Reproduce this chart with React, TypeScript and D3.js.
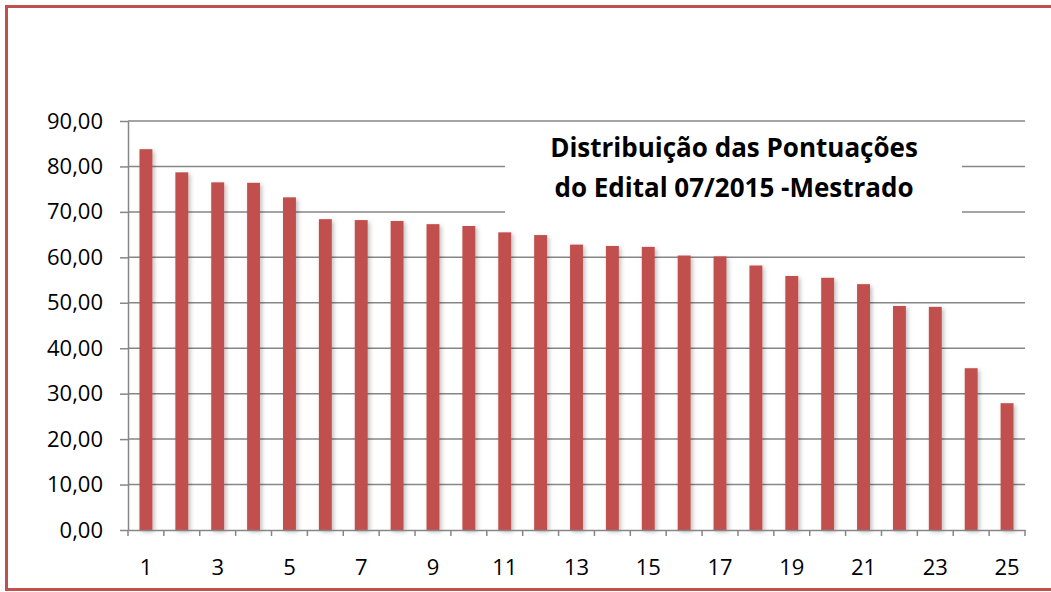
import { useEffect, useRef } from "react";
import { select, scaleLinear, scaleBand, axisBottom, axisLeft, range } from "d3";

// dados
const categories = range(1, 26).map(String);
const scores = [
  83.8, 78.7, 76.5, 76.4, 73.2, 68.4, 68.2, 68.0, 67.3, 66.9, 65.5, 64.9, 62.8,
  62.5, 62.3, 60.4, 60.2, 58.2, 55.9, 55.5, 54.1, 49.3, 49.1, 35.6, 27.9,
];
const yTicks = [0, 10, 20, 30, 40, 50, 60, 70, 80, 90];
const titleLines = ["Distribuição das Pontuações", "do Edital 07/2015 -Mestrado"];

const WIDTH = 1051;
const HEIGHT = 592;
const BAR_COLOR = "#C0504D";
const GRID_COLOR = "#868686";
const FONT = "'Open Sans', 'Noto Sans', sans-serif";

const drawChart = (node: SVGSVGElement) => {
  const svg = select(node);
  svg.selectAll("*").remove();

  const marginLeft = 128,
    marginRight = 26,
    marginTop = 121,
    marginBottom = 62;

  const x = scaleBand(categories, [marginLeft, WIDTH - marginRight])
    .paddingInner(0.64)
    .paddingOuter(0.32);
  const y = scaleLinear([0, 90], [HEIGHT - marginBottom, marginTop]);

  // sombra suave das barras
  const defs = svg.append("defs");
  const f = defs
    .append("filter")
    .attr("id", "shadow")
    .attr("x", "-50%")
    .attr("y", "-10%")
    .attr("width", "200%")
    .attr("height", "130%");
  f.append("feDropShadow")
    .attr("dx", 2)
    .attr("dy", 2)
    .attr("stdDeviation", 2)
    .attr("flood-color", "#000")
    .attr("flood-opacity", 0.25);

  // moldura
  svg
    .append("rect")
    .attr("x", 6.5)
    .attr("y", 6.5)
    .attr("width", WIDTH + 10)
    .attr("height", 583)
    .attr("fill", "#fff")
    .attr("stroke", BAR_COLOR)
    .attr("stroke-width", 3);

  // linhas de grade
  svg
    .append("g")
    .selectAll("line")
    .data(yTicks.filter((d) => d > 0))
    .enter()
    .append("line")
    .attr("x1", marginLeft)
    .attr("x2", WIDTH - marginRight)
    .attr("y1", (d) => y(d))
    .attr("y2", (d) => y(d))
    .attr("stroke", GRID_COLOR)
    .attr("stroke-width", 1.5);

  // barras
  svg
    .append("g")
    .selectAll("rect")
    .data(scores)
    .enter()
    .append("rect")
    .attr("x", (d, i) => x(categories[i]) as number)
    .attr("y", (d) => y(d))
    .attr("width", x.bandwidth())
    .attr("height", (d) => y(0) - y(d))
    .attr("fill", BAR_COLOR)
    .attr("filter", "url(#shadow)");

  // eixo x: marcas entre categorias, rótulos só nos ímpares
  const step = x.step();
  const gx = svg
    .append("g")
    .attr("transform", `translate(0,${y(0)})`)
    .call(
      axisBottom(x)
        .tickSize(0)
        .tickPadding(29)
        .tickFormat((d, i) => (i % 2 === 0 ? d : ""))
    );
  gx.select(".domain").attr("stroke", GRID_COLOR).attr("stroke-width", 1.5);
  gx.selectAll("text")
    .attr("font-family", FONT)
    .attr("font-size", 22)
    .attr("fill", "#000");
  gx.append("g")
    .selectAll("line")
    .data(range(categories.length + 1))
    .enter()
    .append("line")
    .attr("x1", (d) => marginLeft + d * step)
    .attr("x2", (d) => marginLeft + d * step)
    .attr("y1", 0)
    .attr("y2", 6)
    .attr("stroke", GRID_COLOR)
    .attr("stroke-width", 1.5);

  // eixo y
  const gy = svg
    .append("g")
    .attr("transform", `translate(${marginLeft},0)`)
    .call(
      axisLeft(y)
        .tickValues(yTicks)
        .tickSize(8)
        .tickSizeOuter(0)
        .tickPadding(17)
        .tickFormat((d) => (d as number).toFixed(2).replace(".", ","))
    );
  gy.select(".domain").attr("stroke", GRID_COLOR).attr("stroke-width", 1.5);
  gy.selectAll(".tick line").attr("stroke", GRID_COLOR).attr("stroke-width", 1.5);
  gy.selectAll("text")
    .attr("font-family", FONT)
    .attr("font-size", 22)
    .attr("fill", "#000");

  // título sobre fundo branco
  svg
    .append("rect")
    .attr("x", 505)
    .attr("y", 126)
    .attr("width", 457)
    .attr("height", 96)
    .attr("fill", "#fff");
  svg
    .append("g")
    .selectAll("text")
    .data(titleLines)
    .enter()
    .append("text")
    .attr("x", 734)
    .attr("y", (d, i) => 157 + i * 40)
    .attr("text-anchor", "middle")
    .attr("font-family", FONT)
    .attr("font-weight", "bold")
    .attr("font-size", 26)
    .attr("fill", "#000")
    .text((d) => d);
};

const App = () => {
  const ref = useRef<SVGSVGElement>(null);
  useEffect(() => {
    if (ref.current) drawChart(ref.current);
  }, []);
  return (
    <div style={{ position: "absolute", left: 0, top: 0 }}>
      <svg ref={ref} width={WIDTH} height={HEIGHT} style={{ display: "block" }} />
    </div>
  );
};
export default App;
